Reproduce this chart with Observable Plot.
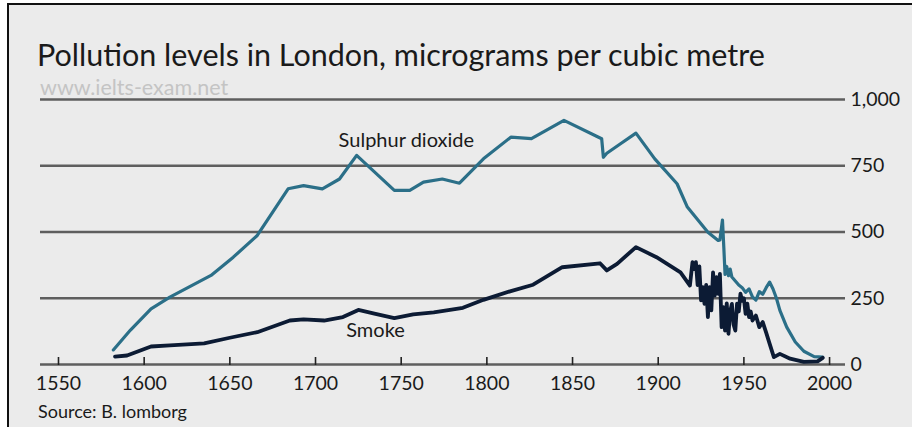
<!DOCTYPE html>
<html>
<head>
<meta charset="utf-8">
<script src="https://cdn.jsdelivr.net/npm/d3@7"></script>
<script src="https://cdn.jsdelivr.net/npm/@observablehq/plot@0.6"></script>
<style>
  html, body { margin: 0; padding: 0; background: #ffffff; width: 912px; height: 427px; overflow: hidden; }
  #frame { position: absolute; left: 7px; top: 3px; width: 905px; height: 424px; background: #ebebeb;
           border-left: 2px solid #111; border-top: 2px solid #111; box-sizing: border-box; }
  #chart { position: absolute; left: 0; top: 0; }
  .t { position: absolute; font-family: Lato, "Open Sans", sans-serif; white-space: nowrap; line-height: 1; }
  #title { left: 37px; top: 39px; font-size: 30.5px; color: #1a1a1a; }
  #wm { left: 40px; top: 77px; font-size: 21.5px; color: #c4c4c4; }
  #source { left: 38px; top: 402px; font-size: 18px; color: #1a1a1a; }
</style>
</head>
<body>
<div id="frame"></div>
<div id="chart"></div>
<div class="t" id="title">Pollution levels in London, micrograms per cubic metre</div>
<div class="t" id="wm">www.ielts-exam.net</div>
<div class="t" id="source">Source: B. lomborg</div>
<script>
// Sulphur dioxide (years, values)
const so2Years = [1582,1592,1604,1615,1639,1652,1666,1684,1693,1704,1714,1724,1746,1755,1763,1774,1784,1798,1814,1826,1845,1867,1868,1870,1878,1887,1898,1911,1917,1929,1935,1936,1937.5,1938.3,1939,1940,1941,1942,1943,1945,1947,1949,1951,1953,1955,1957,1959,1961,1963,1965,1967,1969,1971,1975,1980,1985,1991,1996];
const so2Values = [55,130,210,254,336,405,487,663,675,663,700,789,657,657,688,700,684,776,858,852,921,852,782,797,833,873,776,682,594,499,468,470,545,440,340,370,335,360,330,315,300,290,272,285,255,243,275,265,290,311,285,250,204,141,85,50,30,28];

// Smoke (years, values)
const smokeYears = [1583,1590,1604,1615,1635,1650,1666,1685,1693,1705,1716,1725,1735,1746,1757,1769,1786,1798,1814,1827,1844,1866,1870,1876,1887,1899,1913,1918.5,1920,1921,1922,1923,1924,1925,1926,1927,1928,1929,1930,1931,1932,1933,1934,1935,1936,1937,1938,1939,1940,1941,1942,1943,1944,1945,1946,1947,1948,1949,1950,1951,1952,1953,1954,1955,1957,1959,1961,1963,1965,1967.5,1971,1977,1985,1993,1996];
const smokeValues = [30,34,68,72,80,101,122,166,170,166,179,206,191,175,189,197,214,244,277,301,367,382,355,380,443,405,348,298,386,360,386,300,370,242,292,229,300,179,292,204,348,260,330,267,342,141,216,128,231,116,200,229,150,128,230,200,267,240,250,191,230,179,200,166,185,141,160,120,79,28,40,22,10,12,25];

const xTicks = [1550,1600,1650,1700,1750,1800,1850,1900,1950,2000];
const yTicks = [0,250,500,750,1000];
const seriesLabels = [
  {name: "Sulphur dioxide", year: 1753, value: 819},
  {name: "Smoke", year: 1735, value: 102}
];

const so2 = so2Years.map((y, i) => ({year: y, value: so2Values[i]}));
const smoke = smokeYears.map((y, i) => ({year: y, value: smokeValues[i]}));

const plot = Plot.plot({
  width: 912,
  height: 427,
  marginLeft: 40,
  marginRight: 67,
  marginTop: 99,
  marginBottom: 63,
  style: {fontFamily: "Lato, 'Open Sans', sans-serif", fontSize: "19px", background: "transparent", color: "#1a1a1a"},
  x: {domain: [1539.5, 2009.3]},
  y: {domain: [0, 1000]},
  marks: [
    Plot.ruleY(yTicks, {stroke: "#5e5e5e", strokeWidth: 2.4}),
    Plot.tickX(xTicks, {x: d => d, stroke: "#222", strokeWidth: 1.6, insetTop: 258, insetBottom: -1}),
    Plot.axisX({ticks: xTicks, tickSize: 0, tickPadding: 12, tickFormat: d => String(d), fontSize: 19.5, label: null}),
    Plot.axisY({ticks: yTicks, anchor: "right", tickSize: 0, tickPadding: 5, tickFormat: d3.format(","), fontSize: 19.5, label: null}),
    Plot.line(so2, {x: "year", y: "value", stroke: "#2b6f88", strokeWidth: 3.2, strokeLinejoin: "round"}),
    Plot.line(smoke, {x: "year", y: "value", stroke: "#0c1b34", strokeWidth: 3.8, strokeLinejoin: "round"}),
    Plot.text(seriesLabels, {x: "year", y: "value", text: "name", textAnchor: "middle", lineAnchor: "bottom", fontSize: 20, fill: "#1a1a1a"})
  ]
});
document.getElementById("chart").appendChild(plot);
</script>
</body>
</html>
